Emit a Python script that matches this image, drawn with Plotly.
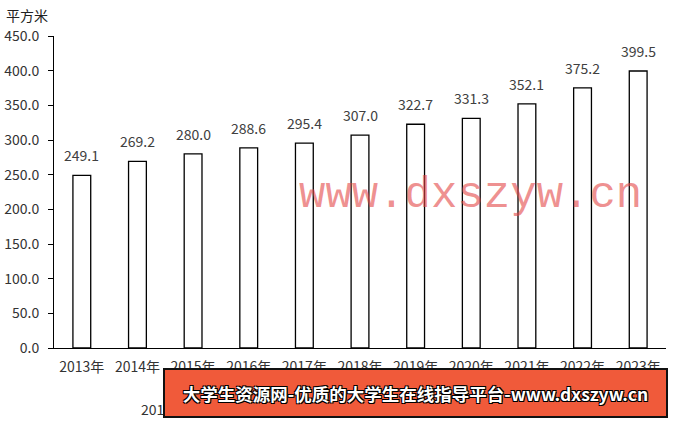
import plotly.graph_objects as go

years = ["2013年", "2014年", "2015年", "2016年", "2017年", "2018年",
         "2019年", "2020年", "2021年", "2022年", "2023年"]
values = [249.1, 269.2, 280.0, 288.6, 295.4, 307.0, 322.7, 331.3, 352.1, 375.2, 399.5]
y_ticks = [0, 50, 100, 150, 200, 250, 300, 350, 400, 450]
y_unit = "平方米"
title_text = "201"
watermark = "www.dxszyw.cn"
banner = "大学生资源网-优质的大学生在线指导平台-www.dxszyw.cn"

W, H = 673, 422
L, R, T, B = 54, 7, 36, 74
PW, PH = W - L - R, H - T - B

def px(xp):
    return (xp - L) / PW

def py(yp):
    return (H - B - yp) / PH

FONT = "Noto Sans CJK SC, Noto Sans, sans-serif"

fig = go.Figure(go.Bar(
    x=years, y=values, width=0.32,
    marker=dict(color="white", line=dict(color="black", width=1.3)),
    hoverinfo="skip",
))

annotations = []
for yr, v in zip(years, values):
    annotations.append(dict(
        x=yr, y=v, xref="x", yref="y", text=f"{v:.1f}", showarrow=False,
        yanchor="bottom", yshift=8, font=dict(family=FONT, size=14, color="#404040"),
    ))

annotations.append(dict(
    x=px(4), y=py(15), xref="paper", yref="paper", text=y_unit, showarrow=False,
    xanchor="left", yanchor="middle", font=dict(family=FONT, size=14, color="#222"),
))
annotations.append(dict(
    x=px(470), y=py(195), xref="paper", yref="paper", text=watermark, showarrow=False,
    xanchor="center", yanchor="middle",
    font=dict(family="Liberation Mono, monospace", size=44, color="rgba(228,70,70,0.6)"),
))
annotations.append(dict(
    x=px(139), y=py(409), xref="paper", yref="paper", text=title_text, showarrow=False,
    xanchor="left", yanchor="middle", font=dict(family=FONT, size=14, color="#333"),
))
annotations.append(dict(
    x=px(415.5), y=py(393), xref="paper", yref="paper", text="<b>" + banner + "</b>",
    showarrow=False, xanchor="center", yanchor="middle",
    width=501, height=46, bgcolor="#F05A3A", bordercolor="#111", borderwidth=2, borderpad=0,
    font=dict(family=FONT, size=17.5, color="white",
              shadow="-1px -1px 0 #000, 1px -1px 0 #000, -1px 1px 0 #000, 1px 1px 0 #000"),
))

fig.update_layout(
    width=W, height=H,
    margin=dict(l=L, r=R, t=T, b=B, pad=0, autoexpand=False),
    paper_bgcolor="white", plot_bgcolor="white",
    showlegend=False,
    font=dict(family=FONT, size=13, color="#333"),
    annotations=annotations,
    xaxis=dict(
        showline=True, linecolor="black", linewidth=1, ticks="", showgrid=False,
        tickfont=dict(family=FONT, size=14, color="#333"), ticklabelstandoff=6,
        fixedrange=True, automargin=False,
    ),
    yaxis=dict(
        range=[0, 450], tickvals=y_ticks, ticktext=[f"{t:.1f}" for t in y_ticks],
        showline=True, linecolor="black", linewidth=1, ticks="outside", ticklen=5,
        tickcolor="black", showgrid=False, zeroline=False,
        tickfont=dict(family=FONT, size=14, color="#333"), ticklabelstandoff=6,
        fixedrange=True, automargin=False,
    ),
)

fig.write_html(
    "out.html",
    config={"displayModeBar": False},
    post_script="document.body.style.margin='0';document.body.style.overflow='hidden';",
)
